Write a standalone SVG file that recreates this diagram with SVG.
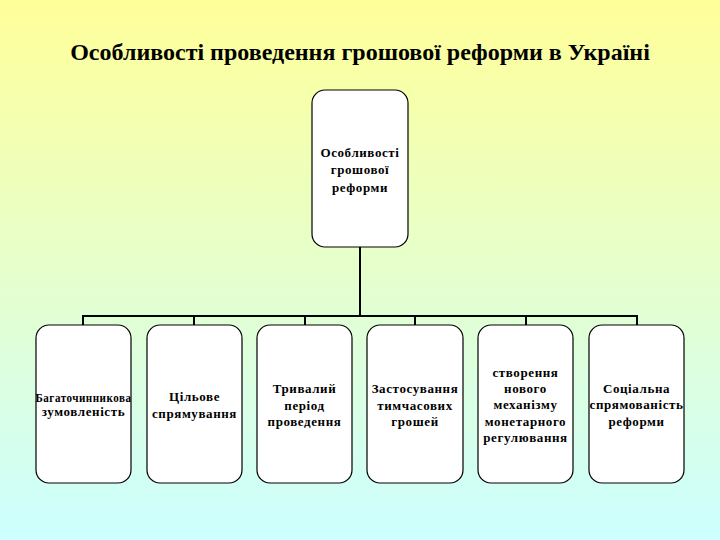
<svg xmlns="http://www.w3.org/2000/svg" width="720" height="540" viewBox="0 0 720 540">
<defs>
<linearGradient id="bg" x1="0" y1="0" x2="0" y2="1">
<stop offset="0" stop-color="#FFFF99"/>
<stop offset="1" stop-color="#CCFFFF"/>
</linearGradient>
</defs>
<style>
.box{fill:#ffffff;stroke:#000000;stroke-width:1.2}
.t{font-family:"Liberation Serif","Times New Roman",serif;font-weight:bold;font-size:13px;letter-spacing:0.6px;fill:#000000;text-anchor:middle}
.title{font-family:"Liberation Serif","Times New Roman",serif;font-weight:bold;font-size:24px;fill:#000000;text-anchor:middle}
.ln{stroke:#000000;stroke-width:2;fill:none}
</style>
<rect x="0" y="0" width="720" height="540" fill="url(#bg)"/>
<text class="title" x="360" y="60">Особливості проведення грошової реформи в Україні</text>
<g id="connectors">
<path class="ln" d="M360 247 V316 M83 326 V316 H637 V326 M194 316 V326 M305 316 V326 M415 316 V326 M526 316 V326"/>
</g>
<g id="root">
<rect class="box" x="312" y="90" width="96" height="157" rx="13"/>
<text class="t" x="360" y="157">Особливості</text>
<text class="t" x="360" y="174">грошової</text>
<text class="t" x="360" y="192">реформи</text>
</g>
<g id="n1">
<rect class="box" x="36" y="325" width="95" height="158" rx="13"/>
<text class="t" x="83.5" y="402" font-size="11" letter-spacing="0" textLength="96" lengthAdjust="spacingAndGlyphs">Багаточинникова</text>
<text class="t" x="83.5" y="416" font-size="11" letter-spacing="0">зумовленість</text>
</g>
<g id="n2">
<rect class="box" x="147" y="325" width="95" height="158" rx="13"/>
<text class="t" x="194.5" y="401">Цільове</text>
<text class="t" x="194.5" y="418">спрямування</text>
</g>
<g id="n3">
<rect class="box" x="257" y="325" width="95" height="158" rx="13"/>
<text class="t" x="304.5" y="393">Тривалий</text>
<text class="t" x="304.5" y="410">період</text>
<text class="t" x="304.5" y="426">проведення</text>
</g>
<g id="n4">
<rect class="box" x="367" y="325" width="96" height="158" rx="13"/>
<text class="t" x="415" y="393">Застосування</text>
<text class="t" x="415" y="410">тимчасових</text>
<text class="t" x="415" y="426">грошей</text>
</g>
<g id="n5">
<rect class="box" x="478" y="325" width="95" height="158" rx="13"/>
<text class="t" x="525.5" y="377">створення</text>
<text class="t" x="525.5" y="393">нового</text>
<text class="t" x="525.5" y="409">механізму</text>
<text class="t" x="525.5" y="426">монетарного</text>
<text class="t" x="525.5" y="442">регулювання</text>
</g>
<g id="n6">
<rect class="box" x="589" y="325" width="95" height="158" rx="13"/>
<text class="t" x="636.5" y="393">Соціальна</text>
<text class="t" x="636.5" y="409" textLength="94" lengthAdjust="spacingAndGlyphs">спрямованість</text>
<text class="t" x="636.5" y="426">реформи</text>
</g>
</svg>
